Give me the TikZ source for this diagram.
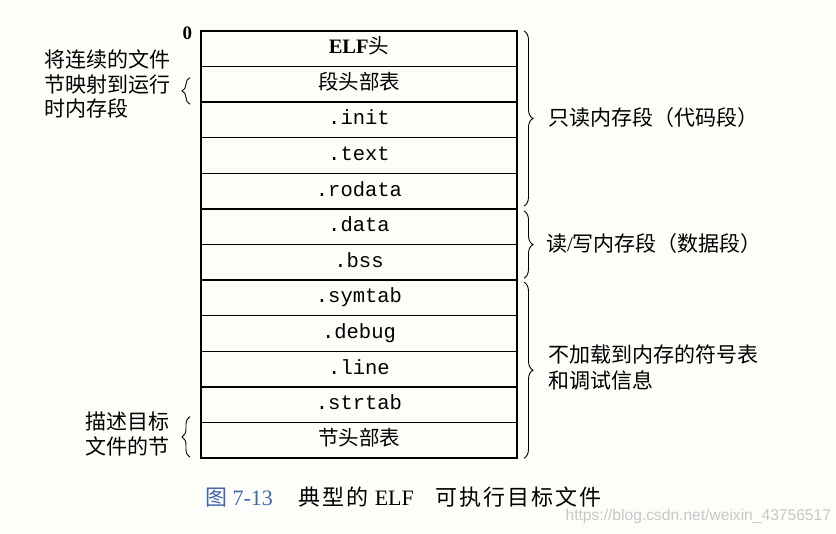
\documentclass[tikz,border=0pt]{standalone}
\usepackage{fontspec}
\setmainfont{Liberation Serif}
\setmonofont{Liberation Mono}
\setsansfont{Liberation Sans}
\newfontfamily\cjk{Noto Sans CJK SC}
\newfontfamily\cjkwide[LetterSpace=9]{Noto Sans CJK SC}
\usetikzlibrary{positioning,decorations.pathreplacing,calc}

\definecolor{paper}{RGB}{253,253,249}
\definecolor{figblue}{RGB}{70,100,170}

\begin{document}
\begin{tikzpicture}[
    x=1pt, y=-1pt,
    node distance=0pt,
    every node/.style={inner sep=0pt, outer sep=0pt},
    row/.style={draw, line width=1.4pt, minimum width=316pt, minimum height=35.6pt,
        text height=14pt, text depth=4pt, font=\fontsize{20.5}{22}\selectfont\ttfamily},
    cjkrow/.style={row, font=\fontsize{20.5}{22}\selectfont\cjk},
    note/.style={align=left, anchor=west, font=\fontsize{21}{24.5}\selectfont\cjk},
    brace/.style={decorate, decoration={brace, amplitude=9pt}, line width=0.9pt}
]
\useasboundingbox[fill=paper] (0,0) rectangle (836,534);

% Rows of the executable file
\node[cjkrow, anchor=north west] (elfhdr) at (201,31) {\rmfamily\bfseries ELF\mdseries\cjk 头};
\node[cjkrow, below=of elfhdr] (seghdr) {段头部表};
\node[row, below=of seghdr] (init) {.init};
\node[row, below=of init] (text) {.text};
\node[row, below=of text] (rodata) {.rodata};
\node[row, below=of rodata] (data) {.data};
\node[row, below=of data] (bss) {.bss};
\node[row, below=of bss] (symtab) {.symtab};
\node[row, below=of symtab] (debug) {.debug};
\node[row, below=of debug] (line) {.line};
\node[row, below=of line] (strtab) {.strtab};
\node[cjkrow, below=of strtab] (sechdr) {节头部表};

% Address zero
\node[font=\fontsize{19}{20}\selectfont\rmfamily\bfseries, anchor=south east] (zero)
    at ($(elfhdr.north west)+(-9,9)$) {0};

% Left-hand braces and notes
\coordinate (lb1a) at ($(seghdr.south west)+(-11,2)$);
\coordinate (lb1b) at ($(seghdr.north west)+(-11,11)$);
\draw[brace, decoration={amplitude=8pt}] (lb1a) -- (lb1b);
\node[note] (mapnote) at (45,84) {将连续的文件\\节映射到运行\\时内存段};

\coordinate (lb2a) at ($(sechdr.south west)+(-11,-1)$);
\coordinate (lb2b) at ($(sechdr.north west)+(-11,-6)$);
\draw[brace, decoration={amplitude=8pt}] (lb2a) -- (lb2b);
\node[note] (secnote) at (85,434) {描述目标\\文件的节};

% Right-hand braces and notes
\coordinate (rb1a) at ($(elfhdr.north east)+(7,0)$);
\coordinate (rb1b) at ($(rodata.south east)+(7,-3)$);
\draw[brace] (rb1a) -- (rb1b);
\node[note] (ronote) at (548,118) {只读内存段（代码段）};

\coordinate (rb2a) at ($(data.north east)+(7,2)$);
\coordinate (rb2b) at ($(bss.south east)+(7,-2)$);
\draw[brace] (rb2a) -- (rb2b);
\node[note] (rwnote) at (546,244) {读\rmfamily/\cjk 写内存段（数据段）};

\coordinate (rb3a) at ($(symtab.north east)+(7,2)$);
\coordinate (rb3b) at ($(sechdr.south east)+(7,0)$);
\draw[brace] (rb3a) -- (rb3b);
\node[note, font=\fontsize{21}{26}\selectfont\cjk] (symnote) at (548,368) {不加载到内存的符号表\\和调试信息};

% Caption and watermark
\node[anchor=west, font=\fontsize{22}{24}\selectfont] (caption) at (205,497)
    {\textcolor{figblue}{\cjk 图\rmfamily\ 7-13}\hspace{26pt}{\cjkwide 典型的}\hspace{6pt}ELF\hspace{22pt}{\cjkwide 可执行目标文件}};
\node[anchor=east, font=\fontsize{15.6}{17}\selectfont\sffamily, text=black!22] (mark)
    at (831,516) {https://blog.csdn.net/weixin\_43756517};
\end{tikzpicture}
\end{document}
